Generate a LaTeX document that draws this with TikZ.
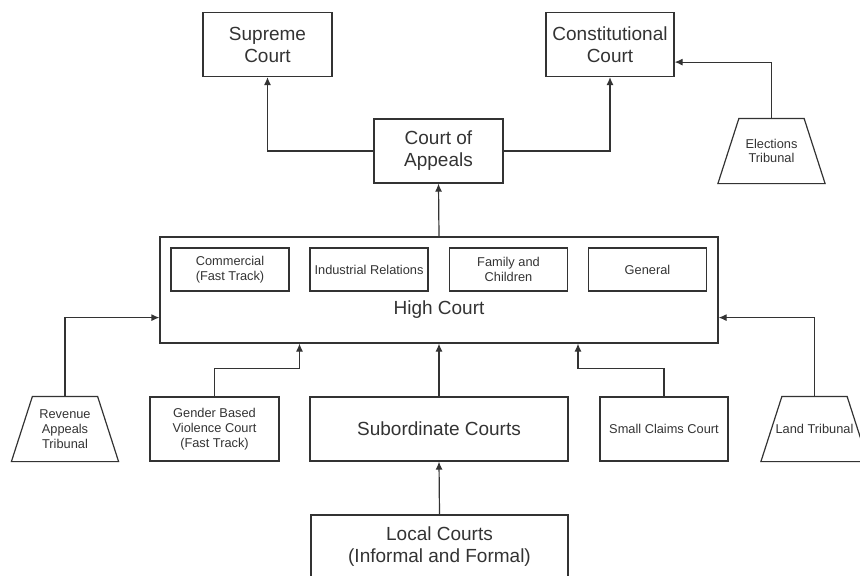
\documentclass[tikz,border=0pt]{standalone}
\usepackage{fontspec}
\setmainfont{Liberation Sans}
\usetikzlibrary{arrows.meta,calc}

\begin{document}
\begin{tikzpicture}[line width=1.2pt,>={Latex[length=8pt,width=7pt]},
  x=1pt, y=-1pt, color=black!80]
\tikzset{court/.style={draw, rectangle, inner sep=2pt, align=center,
    minimum width=129pt, minimum height=64pt, font=\fontsize{19}{22}\selectfont},
  division/.style={draw, rectangle, inner sep=2pt, align=center,
    minimum width=118pt, minimum height=43pt, font=\fontsize{12.8}{14.8}\selectfont},
  tribunal/.style={rectangle, inner sep=0pt, align=center,
    minimum width=106pt, minimum height=64pt, font=\fontsize{12.8}{14.8}\selectfont},
  link/.style={->}}
\newcommand\tribunal[3]{\node[tribunal] (#1) at (#2) {#3};
  \draw ([xshift=21pt]#1.north west) -- ([xshift=-21pt]#1.north east)
    -- (#1.south east) -- (#1.south west) -- cycle;}
\useasboundingbox (0,0) rectangle (860,576);
% ---------- top row ----------
\node[court] (sup) at (267.5,44.5) {Supreme\\Court};
\node[court, minimum width=128pt] (con) at (610,44.5) {Constitutional\\Court};
\node[court] (coa) at (438.5,151) {Court of\\Appeals};
\tribunal{ele}{771.5,151}{Elections\\Tribunal}
% ---------- high court and its divisions ----------
\node[draw, rectangle, minimum width=558pt, minimum height=106pt] (high) at (439,290) {};
\node[division] (com) at (230,269.5) {Commercial\\(Fast Track)};
\node[division] (ind) at (369,269.5) {Industrial Relations};
\node[division] (fam) at (508.5,269.5) {Family and\\Children};
\node[division] (gen) at (647.5,269.5) {General};
\node[font=\fontsize{19}{22}\selectfont] (hclabel) at (439,310) {High Court};
% ---------- lower courts ----------
\tribunal{rev}{65,429}{Revenue\\Appeals\\Tribunal}
\node[court, font=\fontsize{12.8}{14.8}\selectfont] (gbv) at (214.5,429) {Gender Based\\Violence Court\\(Fast Track)};
\node[court, minimum width=258pt] (sub) at (439,429) {Subordinate Courts};
\node[court, minimum width=128pt, font=\fontsize{12.8}{14.8}\selectfont] (scc) at (664,429) {Small Claims Court};
\tribunal{land}{814.5,429}{Land Tribunal}
\node[court, minimum width=257pt] (loc) at (439.5,547) {Local Courts\\(Informal and Formal)};
% ---------- appeal routes ----------
\coordinate (mleft) at ($(com.east)!0.5!(ind.west)$);
\coordinate (mright) at ($(fam.east)!0.5!(gen.west)$);
\draw[link] (coa.west) -| (sup.south);
\draw[link] (coa.east) -| (con.south);
\draw[link] (ele.north) |- ([yshift=15pt]con.south east);
\draw[link] (high.north) -- (coa.south);
\draw[link] (rev.north) |- ([yshift=26pt]high.south west);
\draw[link] (land.north) |- ([yshift=26pt]high.south east);
\draw[link] (gbv.north) -- ++(0,-28) -| (mleft |- high.south);
\draw[link] (scc.north) -- ++(0,-28) -| (mright |- high.south);
\draw[link] (sub.north) -- (high.south);
\draw[link] (loc.north) -- (sub.south);
\end{tikzpicture}
\end{document}
